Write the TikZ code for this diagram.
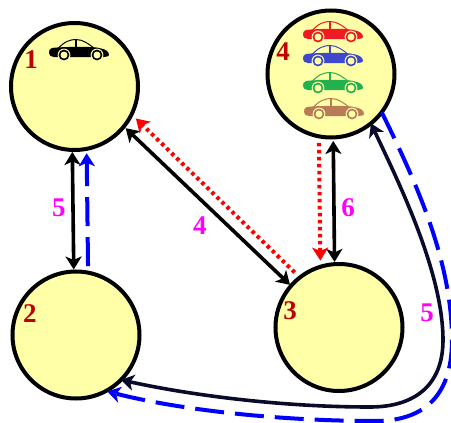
\documentclass[tikz,border=0pt]{standalone}
\usepackage{fontspec}
\setmainfont{Liberation Serif}
\usetikzlibrary{arrows.meta}
\definecolor{nodefill}{HTML}{FFFFA8}
\definecolor{numred}{HTML}{C00000}
\definecolor{costpink}{HTML}{FF00FF}
\definecolor{navyline}{HTML}{0A0A2A}
\definecolor{carred}{HTML}{ED1C24}
\definecolor{carblue}{HTML}{3F48CC}
\definecolor{cargreen}{HTML}{22B14C}
\definecolor{carbrown}{HTML}{B97A57}
\tikzset{
  station/.style={circle,draw=black,fill=nodefill,line width=4pt,minimum size=127pt,inner sep=0pt,outer sep=0pt},
  num/.style={font=\fontsize{27}{27}\selectfont\bfseries,text=numred,inner sep=0pt},
  cost/.style={font=\fontsize{27}{27}\selectfont\bfseries,text=costpink,inner sep=0pt},
  tip/.style={-{Stealth[length=13pt,width=16pt,inset=3.5pt]}},
  tips/.style={{Stealth[length=13pt,width=16pt,inset=3.5pt]}-{Stealth[length=13pt,width=16pt,inset=3.5pt]}},
  solidlink/.style={line width=3.6pt,draw=black,tips},
  navylink/.style={line width=3.6pt,draw=navyline,tips},
  bluelink/.style={line width=4pt,draw=blue,tip,dash pattern=on 29pt off 11pt},
  redlink/.style={line width=4pt,draw=red,tip,dash pattern=on 3.5pt off 3.5pt},
  pics/car/.style={code={
    \draw[#1,line width=1pt,fill=nodefill] (8,11) .. controls (15,2) and (22,0.5) .. (27,0.5) .. controls (34,0.5) and (40,5) .. (46,10) -- cycle;
    \draw[#1,line width=1.2pt] (27,0.5) -- (27,9);
    \fill[#1] (3,9) .. controls (8,8) and (44,7) .. (50,9) .. controls (56,10) and (60,12) .. (60,16)
      .. controls (60,17) and (58,18) .. (55,18) -- (5,18) .. controls (2,18) and (0,16.5) .. (0,14) .. controls (0,11.5) and (0.5,9.5) .. (3,9) -- cycle;
    \foreach \wx in {15,48}{
      \fill[nodefill] (\wx,16) circle[radius=6.4];
      \fill[#1] (\wx,16) circle[radius=5.4];
      \fill[nodefill] (\wx,16) circle[radius=3.5];
    }
  }}
}
\begin{document}
\begin{tikzpicture}[x=1pt,y=-1pt]
\useasboundingbox (0,0) rectangle (451,423);
\node[station] (n1) at (74.5,86.5) {};
\node[station] (n2) at (76,335) {};
\node[station] (n3) at (339,327.5) {};
\node[station] (n4) at (331,74) {};
\pic at (49,39) {car=black};
\pic at (303,21) {car=carred};
\pic at (303,45) {car=carblue};
\pic at (303,72) {car=cargreen};
\pic at (304,98) {car=carbrown};
\node[num] (l1) at (31,60) {1};
\node[num] (l2) at (30,314) {2};
\node[num] (l3) at (290,311) {3};
\node[num] (l4) at (283,52) {4};
\node[cost] (c5a) at (59,208) {5};
\node[cost] (c4) at (200,226) {4};
\node[cost] (c6) at (348,208) {6};
\node[cost] (c5b) at (427,313) {5};
\draw[solidlink,shorten <=2pt,shorten >=2pt] (n1.268) -- (n2.92);
\draw[bluelink,shorten <=6.5pt,shorten >=4.4pt] (n2.79.3) -- (n1.281.5);
\draw[solidlink,shorten <=2.5pt,shorten >=1.5pt] (n1.321) -- (n3.139);
\draw[redlink,shorten <=7.3pt,shorten >=6pt] (n3.128.4) -- (n1.334);
\draw[solidlink,shorten <=3.5pt,shorten >=2.2pt] (n4.272) -- (n3.94.4);
\draw[redlink,shorten <=6.5pt,shorten >=6.2pt] (n4.259.3) -- (n3.107.5);
\draw[navylink] (n4.309) .. controls (395,175) and (443,270) .. (443,340)
  .. controls (443,385) and (415,407) .. (370,407)
  .. controls (280,407) and (190,395) .. (n2.315);
\draw[bluelink,shorten >=1.5pt] (n4.323.3) .. controls (415,180) and (452,260) .. (452,340)
  .. controls (452,400) and (420,421) .. (375,421)
  .. controls (280,421) and (180,410) .. (n2.298.5);
\end{tikzpicture}
\end{document}
